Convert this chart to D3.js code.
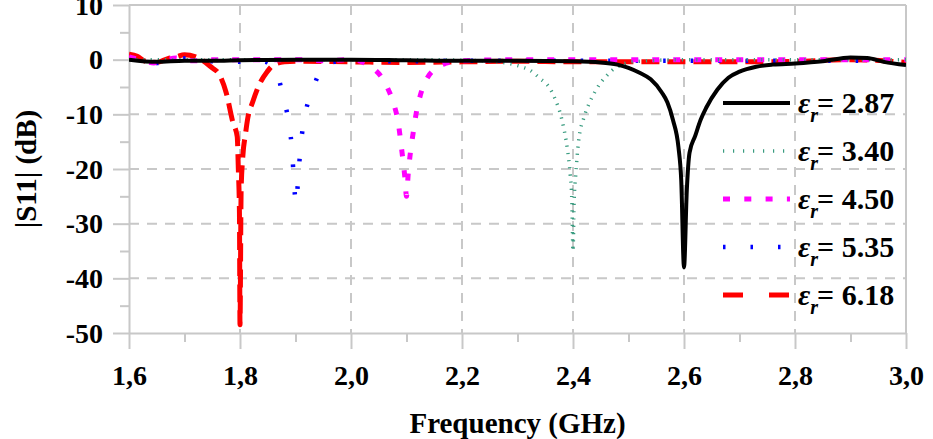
<!DOCTYPE html>
<html>
<head>
<meta charset="utf-8">
<script src="https://cdn.jsdelivr.net/npm/d3@7"></script>
<style>
body { margin: 0; background: #fff; }
text { font-family: "Liberation Serif", "Times New Roman", serif; font-weight: bold; }
</style>
</head>
<body>
<div id="chart"></div>
<script>
// values: frequency (GHz) and |S11| (dB) per curve
const epsLabels = ["2.87", "3.40", "4.50", "5.35", "6.18"];

const f287 = [1.60,1.65,1.70,1.75,1.80,1.90,2.00,2.10,2.20,2.30,2.40,2.45,2.48,2.50,2.52,2.54,2.56,2.57,2.58,2.59,2.595,2.60,2.605,2.61,2.62,2.63,2.64,2.66,2.68,2.70,2.73,2.76,2.80,2.85,2.90,2.93,2.96,3.00];
const s287 = [0.0,-0.4,-0.2,-0.2,-0.1,0.0,0.0,-0.1,-0.2,-0.2,-0.3,-0.5,-0.9,-1.5,-2.4,-3.6,-6.0,-7.8,-11,-16,-22,-38,-24,-17,-14,-11,-8.8,-5.5,-3.3,-2.2,-1.3,-0.9,-0.7,-0.3,0.4,0.3,-0.4,-1.0];

const f340 = [1.60,1.70,1.80,1.90,2.00,2.10,2.20,2.25,2.29,2.31,2.322,2.34,2.358,2.367,2.38,2.39,2.395,2.398,2.40,2.402,2.405,2.41,2.42,2.43,2.44,2.45,2.46,2.47,2.48,2.50,2.52,2.60,2.70,2.80,2.90,3.00];
const s340 = [0,0,0,0,0,0,-0.1,-0.3,-0.8,-1.4,-1.9,-3.4,-5.2,-7,-11,-16.5,-21,-26,-35,-26,-21,-15,-10.5,-7.8,-5.8,-4.2,-3.0,-2.0,-1.3,-0.5,-0.3,0,0,0,0,0];

const f450 = [1.60,1.62,1.645,1.66,1.685,1.70,1.72,1.75,1.80,1.85,1.90,1.95,2.00,2.02,2.04,2.055,2.065,2.075,2.085,2.092,2.097,2.10,2.103,2.107,2.112,2.118,2.125,2.135,2.15,2.17,2.20,2.30,2.40,2.50,2.60,2.70,2.80,2.90,3.00];
const s450 = [0.5,0,-0.6,-0.2,0.3,-0.2,-0.2,0,0,0,0,-0.2,0,-0.4,-1.6,-3.2,-5,-7.5,-11.5,-17,-21.5,-25,-21,-17,-13.4,-9.5,-6.5,-3.8,-1.8,-0.7,-0.2,0,0,0,0,0,0,0,0];

const f535 = [1.60,1.62,1.65,1.70,1.75,1.80,1.84,1.86,1.87,1.877,1.888,1.894,1.897,1.901,1.905,1.909,1.915,1.922,1.930,1.94,1.95,1.97,2.00,2.10,2.20,2.30,2.40,2.50,2.60,2.70,2.80,2.90,3.00];
const s535 = [0.3,-0.2,-0.6,0.2,-0.3,-0.4,-0.3,-1.2,-3.5,-6.6,-11.6,-16.9,-21.9,-26.4,-21.4,-16.2,-11.2,-8,-5.9,-3,-1.2,-0.4,-0.2,-0.3,-0.2,-0.2,-0.2,-0.2,-0.2,-0.2,-0.2,-0.2,-0.3];

const f618 = [1.60,1.615,1.63,1.65,1.67,1.685,1.70,1.72,1.735,1.75,1.762,1.775,1.787,1.795,1.797,1.799,1.80,1.802,1.805,1.81,1.814,1.823,1.835,1.849,1.86,1.88,1.90,2.00,2.10,2.20,2.30,2.40,2.50,2.60,2.70,2.80,2.90,3.00];
const s618 = [1.0,0.6,-0.3,-0.5,0.2,0.5,0.9,0.5,-0.3,-1.5,-2.6,-6,-11.4,-14.1,-20,-28,-48.5,-24,-17.8,-13.5,-10.7,-7.7,-4.5,-2.2,-1.0,-0.4,-0.3,-0.4,-0.5,-0.4,-0.3,-0.4,-0.4,-0.4,-0.4,-0.3,0,-0.5];

const xTicks = [1.6, 1.8, 2.0, 2.2, 2.4, 2.6, 2.8, 3.0];
const yTicks = [10, 0, -10, -20, -30, -40, -50];

const series = [
  { name: epsLabels[0], f: f287, v: s287, color: "#000000", width: 4,   dash: null,     legDash: null },
  { name: epsLabels[1], f: f340, v: s340, color: "#3a9c80", width: 3.5, dash: "1.2,6",  legDash: "1.2,8.8" },
  { name: epsLabels[2], f: f450, v: s450, color: "#ff00ff", width: 5,   dash: "7,14",   legDash: "7,14.3" },
  { name: epsLabels[3], f: f535, v: s535, color: "#0000ff", width: 4.5, dash: "2.5,25", legDash: "2.5,25" },
  { name: epsLabels[4], f: f618, v: s618, color: "#ff0000", width: 5,   dash: "18,8",   legDash: "20,26" }
];

const W = 933, H = 439;
const margin = { top: 5, right: 27, bottom: 106, left: 129 };
const width = W - margin.left - margin.right,
      height = H - margin.top - margin.bottom;

const svg = d3.select("#chart").append("svg")
  .attr("width", W).attr("height", H);

const g = svg.append("g")
  .attr("transform", "translate(" + margin.left + "," + margin.top + ")");

const x = d3.scaleLinear().domain([1.6, 3.0]).range([0, width]);
const y = d3.scaleLinear().domain([-50, 10]).range([height, 0]);

const gridColor = "#c8c8c8";

// dashed grid
g.append("g").selectAll("line")
  .data(yTicks.filter(d => d < 0 && d > -50))
  .enter().append("line")
  .attr("x1", 0).attr("x2", width)
  .attr("y1", d => y(d)).attr("y2", d => y(d))
  .attr("stroke", gridColor).attr("stroke-width", 2)
  .attr("stroke-dasharray", "10,8");

g.append("g").selectAll("line")
  .data(xTicks.filter(d => d > 1.6 && d < 3.0))
  .enter().append("line")
  .attr("x1", d => x(d)).attr("x2", d => x(d))
  .attr("y1", 0).attr("y2", height)
  .attr("stroke", gridColor).attr("stroke-width", 2)
  .attr("stroke-dasharray", "10,8");

// top and right border
g.append("line").attr("x1", 0).attr("x2", width).attr("y1", 0).attr("y2", 0)
  .attr("stroke", gridColor).attr("stroke-width", 2);
g.append("line").attr("x1", width).attr("x2", width).attr("y1", 0).attr("y2", height)
  .attr("stroke", gridColor).attr("stroke-width", 2);

// minor ticks
g.append("g")
  .attr("transform", "translate(0," + height + ")")
  .call(d3.axisBottom(x).tickValues(d3.range(1.7, 3.0, 0.2)).tickSize(9).tickFormat(""))
  .call(a => a.select(".domain").remove())
  .call(a => a.selectAll("line").attr("stroke", gridColor).attr("stroke-width", 2));
g.append("g")
  .call(d3.axisLeft(y).tickValues(d3.range(-45, 10, 10)).tickSize(9).tickFormat(""))
  .call(a => a.select(".domain").remove())
  .call(a => a.selectAll("line").attr("stroke", gridColor).attr("stroke-width", 2));

// main axes
const xAxis = g.append("g")
  .attr("transform", "translate(0," + height + ")")
  .call(d3.axisBottom(x).tickValues(xTicks).tickSize(16).tickSizeOuter(0)
    .tickFormat(d => d3.format(".1f")(d).replace(".", ",")));
const yAxis = g.append("g")
  .call(d3.axisLeft(y).tickValues(yTicks).tickSize(16).tickSizeOuter(0)
    .tickFormat(d => String(d)));

[xAxis, yAxis].forEach(a => {
  a.select(".domain").attr("stroke", gridColor).attr("stroke-width", 2);
  a.selectAll(".tick line").attr("stroke", gridColor).attr("stroke-width", 2);
  a.selectAll(".tick text")
    .attr("fill", "#000")
    .style("font-family", '"Liberation Serif", serif')
    .style("font-weight", "bold")
    .style("font-size", "28px");
});
xAxis.selectAll(".tick text").attr("y", 0).attr("dy", 52);
yAxis.selectAll(".tick text").attr("x", -26).attr("dy", "0.33em");

// curves
g.append("clipPath").attr("id", "clip")
  .append("rect").attr("x", 0).attr("y", -4).attr("width", width).attr("height", height + 4);

const line = d3.line()
  .x(d => x(d[0]))
  .y(d => y(d[1]))
  .curve(d3.curveMonotoneX);

const plot = g.append("g").attr("clip-path", "url(#clip)");
series.slice().reverse().forEach(function(s) {
  plot.append("path")
    .datum(d3.zip(s.f, s.v))
    .attr("fill", "none")
    .attr("stroke", s.color)
    .attr("stroke-width", s.width)
    .attr("stroke-dasharray", s.dash)
    .attr("d", line);
});

// legend
const leg = svg.append("g").attr("transform", "translate(723,103)");
series.forEach(function(s, i) {
  const row = leg.append("g").attr("transform", "translate(0," + (i * 48) + ")");
  row.append("line")
    .attr("x1", 0).attr("x2", 67).attr("y1", 0).attr("y2", 0)
    .attr("stroke", s.color)
    .attr("stroke-width", s.width)
    .attr("stroke-dasharray", s.legDash);
  const t = row.append("text")
    .attr("x", 75).attr("y", 10)
    .style("font-size", "30px");
  t.append("tspan").style("font-style", "italic").text("ε");
  t.append("tspan").style("font-style", "italic").style("font-size", "20px")
    .attr("dy", 9).text("r");
  t.append("tspan").attr("dy", -9).attr("dx", -1).text("= " + s.name);
});

// axis titles
svg.append("text")
  .attr("x", margin.left + width / 2).attr("y", 433)
  .attr("text-anchor", "middle")
  .style("font-size", "29px")
  .text("Frequency (GHz)");

svg.append("text")
  .attr("transform", "translate(36," + (margin.top + height / 2) + ") rotate(-90)")
  .attr("text-anchor", "middle")
  .style("font-size", "29px")
  .text("|S11| (dB)");
</script>
</body>
</html>
